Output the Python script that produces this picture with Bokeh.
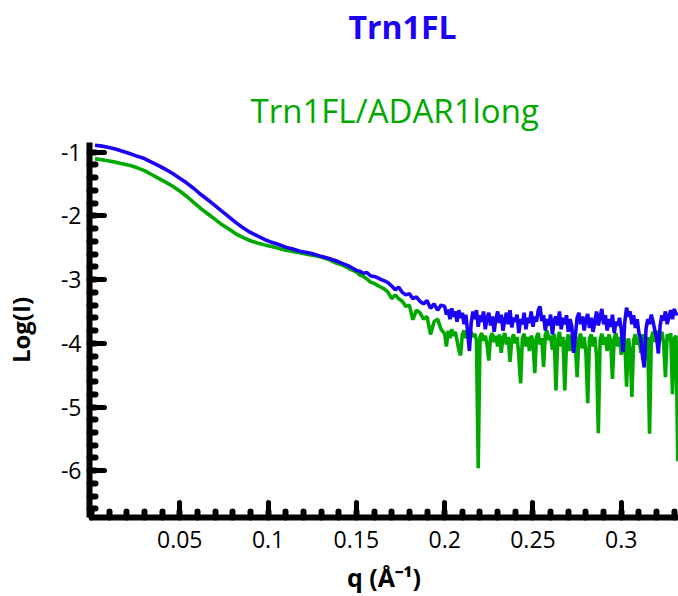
from bokeh.plotting import figure
from bokeh.models import Range1d, FixedTicker, Title, ColumnDataSource
from bokeh.embed import file_html
from bokeh.resources import INLINE

# ---------------- data ----------------
q = [0.002, 0.006, 0.010, 0.014, 0.018, 0.022, 0.026, 0.030, 0.034, 0.038,
     0.042, 0.046, 0.050, 0.054, 0.058, 0.062, 0.066, 0.070, 0.074, 0.078,
     0.082, 0.086, 0.090, 0.094, 0.098, 0.102, 0.106, 0.110, 0.114, 0.118,
     0.122, 0.126, 0.130, 0.134, 0.138, 0.142, 0.146, 0.150,
     0.152, 0.154, 0.156, 0.158, 0.160, 0.162, 0.164, 0.166, 0.168, 0.170,
     0.172, 0.174, 0.176, 0.178, 0.180, 0.182, 0.184, 0.186, 0.188, 0.190,
     0.192, 0.194, 0.196, 0.198,
     0.200, 0.201, 0.202, 0.203, 0.204, 0.205, 0.206, 0.207, 0.208, 0.209,
     0.210, 0.211, 0.212, 0.213, 0.214, 0.215, 0.216, 0.217, 0.218, 0.219,
     0.220, 0.221, 0.222, 0.223, 0.224, 0.225, 0.226, 0.227, 0.228, 0.229,
     0.230, 0.231, 0.232, 0.233, 0.234, 0.235, 0.236, 0.237, 0.238, 0.239,
     0.240, 0.241, 0.242, 0.243, 0.244, 0.245, 0.246, 0.247, 0.248, 0.249,
     0.250, 0.251, 0.252, 0.253, 0.254, 0.255, 0.256, 0.257, 0.258, 0.259,
     0.260, 0.261, 0.262, 0.263, 0.264, 0.265, 0.266, 0.267, 0.268, 0.269,
     0.270, 0.271, 0.272, 0.273, 0.274, 0.275, 0.276, 0.277, 0.278, 0.279,
     0.280, 0.281, 0.282, 0.283, 0.284, 0.285, 0.286, 0.287, 0.288, 0.289,
     0.290, 0.291, 0.292, 0.293, 0.294, 0.295, 0.296, 0.297, 0.298, 0.299,
     0.300, 0.301, 0.302, 0.303, 0.304, 0.305, 0.306, 0.307, 0.308, 0.309,
     0.310, 0.311, 0.312, 0.313, 0.314, 0.315, 0.316, 0.317, 0.318, 0.319,
     0.320, 0.321, 0.322, 0.323, 0.324, 0.325, 0.326, 0.327, 0.328, 0.329,
     0.330, 0.331, 0.332]

log_i_trn1fl = [
    -0.89, -0.905, -0.925, -0.955, -0.99, -1.025, -1.065, -1.10, -1.155, -1.21,
    -1.27, -1.335, -1.41, -1.485, -1.57, -1.665, -1.75, -1.84, -1.93, -2.02,
    -2.11, -2.19, -2.26, -2.315, -2.37, -2.415, -2.45, -2.49, -2.52, -2.555,
    -2.575, -2.60, -2.635, -2.665, -2.70, -2.745, -2.79, -2.855,
    -2.87, -2.90, -2.89, -2.94, -2.95, -2.97, -3.00, -3.02, -3.05, -3.10,
    -3.16, -3.12, -3.20, -3.24, -3.22, -3.30, -3.27, -3.34, -3.38, -3.33,
    -3.45, -3.38, -3.48, -3.40,
    -3.42, -3.55, -3.47, -3.62, -3.45, -3.58, -3.50, -3.66, -3.48, -3.60,
    -3.52, -3.70, -3.55, -3.82, -4.12, -3.68, -3.50, -3.62, -3.48, -3.74,
    -3.56, -3.66, -3.50, -3.78, -3.60, -3.52, -3.72, -3.58, -3.82, -3.62,
    -3.50, -3.68, -3.55, -3.80, -3.64, -3.52, -3.70, -3.48, -3.75, -3.60,
    -3.66, -3.55, -3.84, -3.62, -3.70, -3.52, -3.78, -3.60, -3.68, -3.50,
    -3.74, -3.58, -3.66, -3.48, -3.42, -3.65, -3.56, -3.80, -3.62, -3.72,
    -3.55, -3.86, -3.64, -3.58, -3.72, -3.50, -3.78, -3.60, -3.70, -3.56,
    -3.82, -3.62, -3.74, -4.15, -3.88, -3.60, -3.52, -3.70, -3.58, -3.80,
    -3.62, -3.54, -3.76, -3.60, -3.82, -3.66, -3.50, -3.72, -3.58, -3.46,
    -3.70, -3.56, -3.80, -3.62, -3.74, -3.55, -3.84, -3.66, -3.72, -3.60,
    -3.78, -4.14, -3.66, -3.44, -3.58, -3.50, -3.70, -3.56, -3.76, -3.62,
    -3.84, -3.92, -4.20, -4.38, -3.78, -3.62, -3.70, -3.55, -3.66, -3.80,
    -3.90, -4.16, -3.72, -3.56, -3.64, -3.50, -3.70, -3.58, -3.48, -3.62,
    -3.46, -3.55, -3.52]

log_i_complex = [
    -1.105, -1.12, -1.14, -1.16, -1.185, -1.21, -1.245, -1.29, -1.35, -1.41,
    -1.47, -1.535, -1.61, -1.695, -1.79, -1.885, -1.97, -2.055, -2.14, -2.21,
    -2.285, -2.34, -2.39, -2.425, -2.455, -2.48, -2.51, -2.54, -2.56, -2.58,
    -2.60, -2.62, -2.645, -2.68, -2.735, -2.77, -2.83, -2.88,
    -2.93, -2.95, -2.99, -3.04, -3.06, -3.09, -3.12, -3.15, -3.20, -3.30,
    -3.24, -3.30, -3.34, -3.42, -3.40, -3.63, -3.48, -3.52, -3.62, -3.58,
    -3.86, -3.66, -3.62, -3.78,
    -3.85, -4.05, -3.80, -3.92, -3.78, -3.88, -3.82, -3.95, -4.10, -4.19,
    -3.86, -3.80, -3.92, -3.84, -3.98, -3.82, -3.90, -3.85, -3.95, -5.96,
    -3.90, -3.84, -3.96, -3.88, -4.02, -4.27, -3.90, -3.84, -3.98, -3.88,
    -4.05, -3.86, -4.15, -3.92, -3.84, -4.02, -3.90, -4.29, -3.95, -3.86,
    -4.00, -3.90, -4.20, -4.63, -3.92, -3.85, -4.05, -3.90, -4.12, -3.88,
    -3.96, -4.47, -3.90, -3.84, -4.02, -3.92, -4.37, -3.86, -3.80, -3.95,
    -3.88, -4.10, -3.85, -4.74, -3.95, -3.82, -4.05, -3.90, -4.74, -3.98,
    -3.86, -4.12, -3.90, -3.84, -4.02, -4.53, -3.92, -3.85, -4.08, -3.90,
    -4.15, -4.94, -3.92, -3.86, -4.05, -3.90, -4.20, -5.41, -3.95, -3.85,
    -4.02, -3.90, -4.12, -3.86, -3.96, -4.56, -3.92, -3.84, -4.05, -3.90,
    -4.18, -3.88, -3.96, -4.68, -3.92, -4.10, -4.84, -3.95, -3.86, -4.02,
    -3.90, -4.15, -3.86, -3.96, -4.25, -3.90, -5.42, -3.92, -3.82, -3.98,
    -3.80, -4.05, -3.90, -3.82, -4.00, -4.53, -3.86, -3.95, -3.84, -4.80,
    -3.92, -3.88, -5.85]

series_names = ["Trn1FL", "Trn1FL/ADAR1long"]
x_ticks = [0.05, 0.10, 0.15, 0.20, 0.25, 0.30]
x_tick_labels = ["0.05", "0.1", "0.15", "0.2", "0.25", "0.3"]
y_ticks = [-1, -2, -3, -4, -5, -6]
y_tick_labels = ["-1", "-2", "-3", "-4", "-5", "-6"]

BLUE = "#1a00f5"
GREEN = "#00a800"
FONT = "Open Sans"

# ---------------- figure ----------------
p = figure(width=678, height=596, output_backend="svg", toolbar_location=None,
           x_range=Range1d(-0.0011, 0.3324), y_range=Range1d(-6.734, -0.848),
           min_border_left=89, min_border_right=0, min_border_top=142,
           min_border_bottom=79, background_fill_color="white",
           border_fill_color="white")
p.xgrid.visible = False
p.ygrid.visible = False
p.outline_line_color = None

src = ColumnDataSource(dict(q=q, blue=log_i_trn1fl, green=log_i_complex))
p.line("q", "green", source=src, line_color=GREEN, line_width=3.6)
p.line("q", "blue", source=src, line_color=BLUE, line_width=3.6)

# minor ticks computed from major spacing (5 intervals)
x_minor = [round(k * 0.01, 3) for k in range(0, 34)]
y_minor = [round(-0.8 - k * 0.2, 2) for k in range(0, 30)]

xa = p.xaxis[0]
ya = p.yaxis[0]
xa.ticker = FixedTicker(ticks=x_ticks, minor_ticks=x_minor)
ya.ticker = FixedTicker(ticks=y_ticks, minor_ticks=y_minor)
xa.major_label_overrides = {t: l for t, l in zip(x_ticks, x_tick_labels)}
ya.major_label_overrides = {t: l for t, l in zip(y_ticks, y_tick_labels)}

for ax in (xa, ya):
    ax.axis_line_width = 6
    ax.axis_line_color = "black"
    ax.major_tick_in = 15
    ax.major_tick_out = 0
    ax.minor_tick_in = 6
    ax.minor_tick_out = 0
    ax.major_tick_line_width = 5
    ax.minor_tick_line_width = 6
    ax.major_tick_line_cap = "round"
    ax.minor_tick_line_cap = "round"
    ax.major_tick_line_color = "black"
    ax.minor_tick_line_color = "black"
    ax.major_label_text_font = FONT
    ax.major_label_text_font_size = "23px"
    ax.major_label_text_color = "black"
    ax.axis_label_text_font = FONT
    ax.axis_label_text_font_style = "bold"
    ax.axis_label_text_color = "black"

xa.major_label_standoff = 13
xa.axis_label = "q (Å⁻¹)"
xa.axis_label_text_font_size = "25px"
xa.axis_label_standoff = 9
ya.major_label_standoff = 8
ya.axis_label = "Log(I)"
ya.axis_label_text_font_size = "24px"
ya.axis_label_standoff = 21

# series titles stacked above the plot (first added sits nearest the frame)
p.add_layout(Title(text=series_names[1], align="left", offset=161, standoff=20,
                   text_font=FONT, text_font_style="normal",
                   text_font_size="33px", text_color=GREEN), "above")
# thin gap between the two titles
p.add_layout(Title(text=" ", align="left", standoff=21.5,
                   text_font=FONT, text_font_size="1px"), "above")
p.add_layout(Title(text=series_names[0], align="left", offset=259, standoff=5,
                   text_font=FONT, text_font_style="bold",
                   text_font_size="32px", text_color=BLUE), "above")

open("out.html", "w").write(file_html(p, INLINE))
